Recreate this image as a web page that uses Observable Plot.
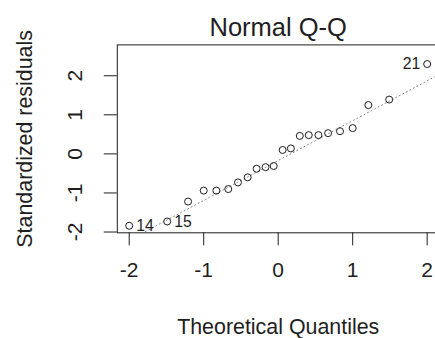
<!DOCTYPE html>
<html>
<head>
<meta charset="utf-8">
<script src="https://cdn.jsdelivr.net/npm/d3@7"></script>
<script src="https://cdn.jsdelivr.net/npm/@observablehq/plot@0.6"></script>
<style>
  html, body { margin: 0; padding: 0; background: white; overflow: hidden; }
</style>
</head>
<body>
<div id="chart"></div>
<script>
// Data
const theoretical = [-2.00, -1.49, -1.21, -1.00, -0.83, -0.67, -0.54, -0.41, -0.29, -0.17, -0.06,
                      0.06, 0.17, 0.29, 0.41, 0.54, 0.67, 0.83, 1.00, 1.21, 1.49, 2.00];
const residuals = [-1.84, -1.73, -1.22, -0.94, -0.94, -0.90, -0.73, -0.60, -0.38, -0.34, -0.31,
                    0.10, 0.14, 0.46, 0.48, 0.48, 0.53, 0.58, 0.66, 1.25, 1.39, 2.30];
const labelIndex = [0, 1, 21];
const labelText = ["14", "15", "21"];
const qqIntercept = -0.17;
const qqSlope = 1.02;
const xTicks = [-2, -1, 0, 1, 2];
const yTicks = [-2, -1, 0, 1, 2];
const titleText = "Normal Q-Q";
const xTitle = "Theoretical Quantiles";
const yTitle = "Standardized residuals";

const points = theoretical.map((x, i) => ({x, y: residuals[i]}));
const labels = labelIndex.map((i, k) => ({x: theoretical[i], y: residuals[i], text: labelText[k], left: theoretical[i] < 0}));
const lineData = [-2.4, 2.4].map(x => ({x, y: qqIntercept + qqSlope * x}));

const ink = "#1e1e1e";
const font = "'Liberation Sans', Arial, sans-serif";
const fmt = d => String(d);

const chart = Plot.plot({
  width: 435,
  height: 338,
  marginLeft: 116.8,
  marginRight: -3.6,
  marginTop: 44.4,
  marginBottom: 105.7,
  style: {background: "white", overflow: "hidden", fontFamily: font, color: ink},
  x: {domain: [-2.16, 2.16]},
  y: {domain: [-2.02, 2.79]},
  marks: [
    Plot.line(lineData, {x: "x", y: "y", stroke: "#7f7f7f", strokeWidth: 1, strokeDasharray: "1,3", clip: true}),
    Plot.dot(points, {x: "x", y: "y", r: 3.5, stroke: ink, strokeWidth: 1, fill: "none"}),
    Plot.text(labels.filter(d => d.left), {x: "x", y: "y", text: "text", textAnchor: "start", dx: 7, fontSize: 15.75, fill: ink}),
    Plot.text(labels.filter(d => !d.left), {x: "x", y: "y", text: "text", textAnchor: "end", dx: -7, fontSize: 15.75, fill: ink}),
    Plot.axisX(xTicks, {tickSize: 13, tickPadding: 16.7, fontSize: 21, label: null, tickFormat: fmt, stroke: ink, fill: ink}),
    Plot.axisY(yTicks, {tickSize: 13, tickFormat: () => "", label: null, stroke: ink}),
    Plot.text(yTicks, {y: d => d, text: fmt, frameAnchor: "left", dx: -35, rotate: -90, textAnchor: "middle", lineAnchor: "bottom", fontSize: 21, fill: ink}),
    Plot.frame({stroke: ink, strokeWidth: 1}),
    Plot.text([titleText], {frameAnchor: "top", dy: -8.5, lineAnchor: "bottom", fontSize: 25.5, fill: ink}),
    Plot.text([xTitle], {frameAnchor: "bottom", dy: 100.7, lineAnchor: "bottom", fontSize: 21.4, fill: ink}),
    Plot.text([yTitle], {frameAnchor: "left", dx: -85.8, rotate: -90, lineAnchor: "bottom", textAnchor: "middle", fontSize: 21.4, fill: ink})
  ]
});
document.getElementById("chart").appendChild(chart);
</script>
</body>
</html>
